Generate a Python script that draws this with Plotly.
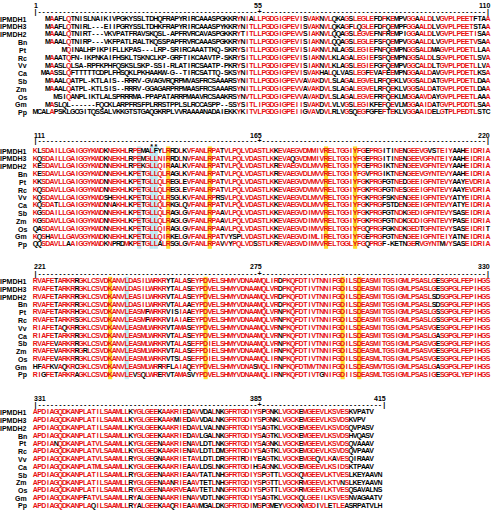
import plotly.graph_objects as go
from collections import Counter

# ---------------- data ----------------
LABELS = ["IPMDH1", "IPMDH3", "IPMDH2", "Bn", "Pt", "Rc", "Vv", "Ca", "Sb", "Zm", "Os", "Gm", "Pp"]

BLOCK_FIRST = [1, 111, 221, 331]
BLOCK_MARK = [55, 165, 275, 385]
BLOCK_LAST = [110, 220, 330, 415]

BLOCK1 = [
    "   MAAFLQTNISLNAIKIVPGKYSSLTDHQFRAPYRIRCAAASPGKKR" + "YNIALLPGDGIGPEVISVAKNVLQKAGSLEGLEFDFKEMPVGGAALDLVGVPLPEETFTAA",
    "   MAAFLQTNIRL---EIIPGRYSSLTDHKFRAPYRIRCAAASPYKKR" + "YNITLLPGDGIGPEVISVAKNVLQKAGFLQGLEFDFQEMPFGGAALDLVGVPLPEETSTAA",
    "   MAAALQTNIRT---VKVPATFRAVSKQSL-APFRVRCAVASPGKKR" + "YTITLLPGDGIGPEVVSIAKNVLQQAGSLEGVEFNFREMPIGGAALDLVGVPLPEETISAA",
    "   MAAALQTNIRP---VKFPATLRALTKQSSPAPFRVRCAAASPGKKR" + "YNITLLPGDGIGPEVISIAKNVLQQAGSLEGLEFSFQEMPVGGAALDLVGVPLPEETVSAA",
    "       MQINALHPIKPIFLLKPAS---LRP-SRIRCAAATTKQ-SKR" + "YSITLLPGDGIGPEVISIAKNVLNLAGSLEGIEFNFQEMPNGGSALDMAGVPLPDETLLAA",
    "   MAAATQFN-IKPNKAIFHSKLTSKNCLKP-GRFTIKCAAVTP-SKR" + "YSITLLPGDGIGPEVISIAKNVLKLAGALEGIEFSFQEMPNGGSALDLSGVPLPDETLSVA",
    "   MAASLQLSA-RPFKPHFQSKSLSKP-SSI-RLATIRCSAATP-PKR" + "YSITLLPGDGIGPEVISIAKNVLKLAGSLEGIEFGFQEMPVGGCALDLTGVPLPDETLLVA",
    "  MAASSLQFTTTTTCDPLFHSQKLPKHAAKW-G--TIRCSATTQ-SKS" + "YNITLLPGDGIGPEVISVAKHALQLVASLEGFEVAFEEMPNGGAALDAVGVPLPDETLKSA",
    "   MAAALQATPL-KTLAIS--RRRV-GVAGVRQRPMVASFRCSAAARS" + "YNITLLPGDGIGPEVVAVAKDVLSLAGALEGVELRFQEKLVGGSALDATGVPLPDETLDAA",
    "   MAAALQATPL-KTLSIS--RRRV-GGAGARPRPMAASFRCSAAARS" + "YNITLLPGDGIGPEVVAVAKDVLSLAGALEGVELRFQEKLVGGSALDATGVPLPDETLDAA",
    "     MSIQANPLIKTLALSPRRRMA-PPAPATARRPMAAVRCSAAKRS" + "YNVTLLPGDGIGPEVVAVAKDVLSLAGALEGVEFRFQEKLMGGAAVDAYGVPLPEETLAAA",
    "   MASLQL------FQCKLARPFRSFPLRRSTPPLSLRCCASPP--SS" + "YSITLIPGDGIGPEIISVAKDVLVLVGSLEGIKFEFQEVLMGGAAIDATGVPLPDDTLSAA",
    "MCALAPSKLGCGITQSSALVKKGTSTGAQGKRPLVVRAAAANADAIEKK" + "YKITVLPGDGIGPEIIGVAVDVLRLVGSQEGFGFEFTEKLVGGAAIDELGTPLPEDTLSTC",
]

BLOCK2 = [
    "KLSDAILLGAIGGYKWDKNEKHLRPEMALFYLRRDLKVFANLRPATVLPQ" + "LVDASTLKKEVAEGVDMMIVRELTGGIYFGEPRGITINENGEEVGVSTEIYAAHEIDRIA",
    "KQSDAILLGAIGGYKWDKNEKHLRPEMGLLNIRRDLNVFANLRPATVLPQ" + "LVDASTLKKEVAQGVDMMIVRELTGGIYFGEPRGITINENGEEVGFNTEIYAAHEIDRIA",
    "KESDAVLLGAIGGYKWDNNEKHLRPEKGLLQIRAALKVFANLRPATVLPQ" + "LVDASTLKREVAEGVDLMVVRELTGGIYFGEPRGIKTNENGEEVGFNTEVYAAHEIDRIA",
    "KESDAVLLGAIGGYKWDNNEKHLKPETGLLQLRAGLKVFANLRPATVLPQ" + "LVDASTLKREVAEGVDLMVVRELTGGIYFGVPRGIKTNENGEEVGYNTEVYAAHEIDRIA",
    "KKSDAVLLGAIGGYKWDNNEKHLKPETGLLQLREGLEVFANLRPATVLPQ" + "LVDASTLKKEVAEGVDVMVVRELTGGIYFGKPRGFGTNEDGEEIGFNTEVYAAYEVDRIA",
    "KQSDAVLLGAIGGYKWDNNEKHLKPETGLLQLREGLEVFANLRPATVLPQ" + "LVDASTLKKEVAEGVDVMVVRELTGGIYFGKPRGFGTNESGEEIGFNTEVYAAYEVDRIA",
    "KQSDAVLLGAIGGYKWDSHEKHLKPETGLLQLRSGLKVFANLRPRSVLPQ" + "LVDASTLKKEVAEGVDLMVVRELTGGIYFGKPRGFSKNENGEEIGFNTEVYATYEIDRIA",
    "KQSDATLLGAIGGYKWDNNAKHLKPETGLLQLRKGLQVFANLRPATVLPQ" + "LVDASTLKKEVAEGVDLMVVRELTGGIYFGKPRGFSTDENGEEIGFNTEVYATYEIDRIA",
    "KGSDAILLGAIGGYKWDNNEKHLKPETGLLQLRAGLGVFANLRPAAVLPQ" + "LVDASTLKKEVAEGVDIMVVRELTGGIYFGKPRGFGTNDKGEDIGFNTEVYSASEIDRIA",
    "KGSDAVLLGAIGGYKWDNNEKHLKPETGLLQLRAGLGVFANLRPAAVLPQ" + "LVDASTLKKEVAEGVDIMVVRELTGGIYFGKPRGFGTNDKGDDIGFNTEVYPASEIDRIA",
    "QASDAVLLGAIGGYKWDNNEKHLKPETGLLQIRAGLGVFANLRPAAVLPQ" + "LVDASTLKKEVAEGVDIMVVRELTGGIYFGQPRGFGKNDKGEDTGFNTEVYSASEIDRIT",
    "KQSHAVLLGAVGGYKWDKNEKHLKPETGLLQIRKELGVFANLRPATVYSP" + "LVDASTLKKEVAEGVDIMLIRELTGGIYFGEPRGFGTNENGEEIGFNTEIYATNEIDRIA",
    "QQSDAVLLAAIGGYKWDKNPRDMKPETGLLALRSGLGVFANLRPAVVYPQ" + "LVDSSTLKREVAEGVDIMVVRELTGGLYFGQPRGF-KETNGERVGYNTMVYSASEIDRIA",
]

BLOCK3 = [
    "RVAFETARKRRGKLCSVDKANVLDASILWRKRYTALASEYPDVELSHMY" + "VDNAAMQLIRDPKQFDTIVTNNIFGDILSDEASMITGSIGMLPSASLGESGPGLFEPIHGS",
    "RVAFETARKRRGKLCSVDKANVLDASILWRKRYTALASEYPDVELSHMY" + "VDNAAMQLVRDPKQFDTIVTNNIFGDILSDEASMITGSIGMLPSASLGESGPGLFEPIHGS",
    "RVAFETARKRRGKLCSVDKANVLEASILWRKRVTALASEYPDVELSHMY" + "VDNAAMQLVRDPKQFDTIVTNNIFGDILSDEASMITGSIGMLPSASLSDSGPGLFEPIHGS",
    "RVAFETARKRRGKLCSVDKANVLDASILWRKRVTALAAEYPDVELSHMY" + "VDNAAMQLVRDPKQFDTIVTNNIFGDILSDEASMITGSIGMLPSASLSDSGPGLFEPIHGS",
    "RVAFETARKRHGKLCSVDKANVLEASMFWRKRVISIAAEYPDVELSHMY" + "VDNAAMQLVRNPKQFDTIVTNNIFGDILSDEASMITGSIGMLPSASLGSSGPGLFEPIHGS",
    "RVAFETARKRSGKLCSVDKANVLEASMFWRKRVIAIAEEYPDVELSHMY" + "VDNAAMQLVRNPKQFDTIVTNNIFGDILSDEASMITGSIGMLPSASLGSSGPGLFEPIHGS",
    "RIAFETAQKRRGKLCSVDKANVLEASMLWRKRVTAMASEYPDVELSHMY" + "VDNAAMQLVRNPKQFDTIVTNNIFGDILSDEASMITGSIGMLPSASVGESGPGLFEPIHGS",
    "RIAFETARKRRGKLCSVDKANVLEASMLWRKRVTALASEYPDVELSHMY" + "VDNAAMQLVRNPKQFDTIVTNNIFGDILSDEASMITGSIGMLPSASLGASGPGLFEPIHGS",
    "RVAFEVARKRRGKLCSVDKANVLEASMLWRKRVTALASEFPDIELSHMY" + "VDNAAMQLVRNPKQFDTIVTNNIFGDILSDEASMITGSIGMLPSASVGESGPGLFEPIHGS",
    "RVAFEVARKRRGRLCSVDKANVLEASMLWRKRVTALASEFPDIELSHMY" + "VDNAAMQLIRNPKQFDTIVTNNIFGDILSDEASMLTGSIGMLPSASVGESGPGLFEPIHGS",
    "RVAFEVARKRRGKLCSVDKANVLEASMLWRKRVTSLASEFPDIELSHMY" + "VDNAAMQLIRNPKQFDTIVTNNIFGDILSDEASMLTGSIGMLPSASVGESGPGLFEPIHGS",
    "HFAFKVAQKRCGKLCSVDKANVLEASMLWRRRFLAIAQEYPDVELSHMY" + "VDNASMQLIRNPKQFDTMVTNNIFGDILSDEASMVTGSIGMLPSASLGASGPGLFEPIHGS",
    "RIGFETARKRAGKLCSVDKANVLEVSQLWRERVTAMASVYPDVELSHMY" + "VDNAAMQLIRNPKQFDTIVTGNIFGDIISDEASMLTGSIGMLPSASIGESGPGLYEPIHGS",
]

BLOCK4 = [
    "APDIAGQDKANPLATILSAAMLLKYGLGEEKAAKRIEDAVVDALNKGFR" + "TGDIYSPGNKLVGCKEMGEEVLKSVESKVPATV",
    "APDIAGQDKANPLATILSAAMLLKYGLGEEKAAKMIEDAVVDALNKGFR" + "TGDIYSPGNKLVGCKEMGEEVLKSVDSKVPV",
    "APDIAGQDKANPLATILSAAMLLKYGLGEEKAAKRIEDAVLVALNNGFR" + "TGDIYSAGTKLVGCKEMGEEVLKSVDSQVPASV",
    "APDIAGQDKANPLATILSAAMLLKYGLGEEKAAKRIEDAVLGALNKGFR" + "TGDIYSAGTKLVGCKEMGEEVLKSVDSHVQASV",
    "APDIANQDKANPLATVLSAAMLLKYGLGEENAAKRIENAVLDTLNKGFR" + "TGDIYSAGNKLVGCKEMGEEVLKSVDSQVAAAV",
    "APDIAGQDKANPLATVLSAAMLLKYGLGEDKAAKRIENAVLDTLDMGFR" + "TGDIYSAGTKLVGCKEMGDEVLKSVDSQVPAAV",
    "APDIAGQDKANPLATVLSAAMLLRYGLGEGNAAKRIETAVLDTLDRGFR" + "TRDIYEAGTKLVGCKEMGEQVLKAVESQIRAAV",
    "APDIAGQDKANPLATMLSAAMLLKYGLGEEKAAKRIEAAVLDSLNKGFR" + "TGDIHSAGNKLVGCKEMGEEVLKSIDSKTPAAV",
    "APDIAGQDKANPLATILSAAMLLRYGLGEENAAKRIEAAVTATLNHGFR" + "TGDIYSPGTTLVGCKQMGEEVLKTVESLKEYAAVN",
    "APDIAGQDKANPLATILSAAMLLRYGLGEENAANRIEAAVTETLNHGFR" + "TGDIYSPGTTLVGCKRMGEEVLKTVNSLKEYAAVN",
    "APDIAGQDKANPLATILSAAMLLRYGLGEENAAKRVEAAVTETLNNGFR" + "TGDIYSPGTTLVGCKRMGEEVLKTVESQSAVALNS",
    "APDIAGQDKANPFATVLSAAMLLRYALGEENAAKRIENAVVDTLNKGFR" + "TGDIYSAGTKLVGCKQLGEEILKSVESNVAGAATV",
    "APDIAGQDKANPLAQILSAAMLLRYALGEEKAAQRIEAAVMGALDKGFR" + "TGDIMSPGMEYVGCKKMGDIVLETLEASRPATVLH",
]

BLOCKS = [BLOCK1, BLOCK2, BLOCK3, BLOCK4]

# highlighted alignment columns (block-local column numbers)
YELLOW_COLS = [[], [33, 43, 71, 78], [19, 42, 75, 79], []]
CYAN_COLS = [[], [26, 29, 30], [23], []]
STAR_COLS = [[], [29, 30], [], []]

# ---------------- layout geometry ----------------
W, H = 492, 512
PX_COL1 = 35.4
PX_PER_COL = 4.152
ROW_Y0 = [19.0, 151.0, 281.4, 412.7]
ROW_STEP = 7.8
RULER_Y = [11.8, 141.6, 274.0, 404.8]
NUMBER_Y = [5.0, 135.0, 266.6, 398.2]
STAR_DY = -4.2

RED = "#e81010"
BLACK = "#000000"
FONT = "Liberation Sans"
FS = 7

GROUPS = ["ILVM", "FYW", "ST", "DE", "NQ"]


def similar(a, b):
    if a in " -" or b in " -":
        return False
    if a == b:
        return True
    return any(a in g and b in g for g in GROUPS)


def column_colors(col):
    n = len(col)
    total = n * (n - 1) / 2
    s = sum(1 for i in range(n) for j in range(i + 1, n) if similar(col[i], col[j]))
    res = [c for c in col if c not in " -"]
    if not res or s / total < 0.7:
        return [BLACK] * n
    cons = Counter(res).most_common(1)[0][0]
    return [RED if similar(c, cons) else BLACK for c in col]


def xcol(px):
    return 1 + (px - PX_COL1) / PX_PER_COL


fig = go.Figure()
shapes = []
annotations = []

red_x, red_y, red_t = [], [], []
blk_x, blk_y, blk_t = [], [], []

for b, rows in enumerate(BLOCKS):
    width = BLOCK_LAST[b] - BLOCK_FIRST[b] + 1
    rows = [r.ljust(width)[:width] for r in rows]
    y_rows = [ROW_Y0[b] + i * ROW_STEP for i in range(len(rows))]
    y_top = y_rows[0] - 4.6
    y_bot = y_rows[-1] + 4.2

    # highlight columns
    for c in YELLOW_COLS[b]:
        shapes.append(dict(type="rect", xref="x", yref="y", x0=c - 0.5, x1=c + 0.5,
                           y0=y_top, y1=y_bot, fillcolor="#ffdc30", line_width=0, layer="below"))
    for c in CYAN_COLS[b]:
        shapes.append(dict(type="rect", xref="x", yref="y", x0=c - 0.5, x1=c + 0.5,
                           y0=y_top, y1=y_bot, fillcolor="#bfeaf3", line_width=0, layer="below"))

    # residues
    for c in range(width):
        col = [r[c] for r in rows]
        colors = column_colors(col)
        for i, ch in enumerate(col):
            if ch == " ":
                continue
            if colors[i] == RED:
                red_x.append(c + 1); red_y.append(y_rows[i]); red_t.append(ch)
            else:
                blk_x.append(c + 1); blk_y.append(y_rows[i]); blk_t.append(ch)

    # ruler
    mark = BLOCK_MARK[b] - BLOCK_FIRST[b] + 1
    for c in range(1, width + 1):
        ch = "|" if c in (1, width) else ("+" if c == mark else "-")
        blk_x.append(c); blk_y.append(RULER_Y[b]); blk_t.append(ch)

    # stars
    for c in STAR_COLS[b]:
        blk_x.append(c); blk_y.append(ROW_Y0[b] + STAR_DY); blk_t.append("*")

    # numbering
    annotations.append(dict(x=0.55, y=NUMBER_Y[b], text=str(BLOCK_FIRST[b]), xanchor="left"))
    annotations.append(dict(x=mark + 0.5, y=NUMBER_Y[b], text=str(BLOCK_MARK[b]), xanchor="right"))
    annotations.append(dict(x=width + 0.5, y=NUMBER_Y[b], text=str(BLOCK_LAST[b]), xanchor="right"))

    # labels
    for i, lab in enumerate(LABELS):
        annotations.append(dict(x=xcol(27.3), y=y_rows[i], text=lab, xanchor="right"))

for a in annotations:
    a.update(xref="x", yref="y", yanchor="middle", showarrow=False, borderpad=0, borderwidth=0,
             font=dict(family=FONT, size=FS, color=BLACK, weight="bold"))

for xs, ys, ts, colr in [(blk_x, blk_y, blk_t, BLACK), (red_x, red_y, red_t, RED)]:
    fig.add_trace(go.Scatter(x=xs, y=ys, text=ts, mode="text", textposition="middle center",
                             textfont=dict(family=FONT, size=FS, color=colr, weight="bold"),
                             hoverinfo="skip", showlegend=False))

fig.update_layout(
    width=W, height=H, margin=dict(l=0, r=0, t=0, b=0),
    paper_bgcolor="white", plot_bgcolor="white",
    xaxis=dict(range=[xcol(0), xcol(W)], visible=False, fixedrange=True),
    yaxis=dict(range=[H, 0], visible=False, fixedrange=True),
    shapes=shapes, annotations=annotations, showlegend=False,
)

fig.write_html("out.html", config={"displayModeBar": False},
               post_script="document.body.style.margin='0';")
